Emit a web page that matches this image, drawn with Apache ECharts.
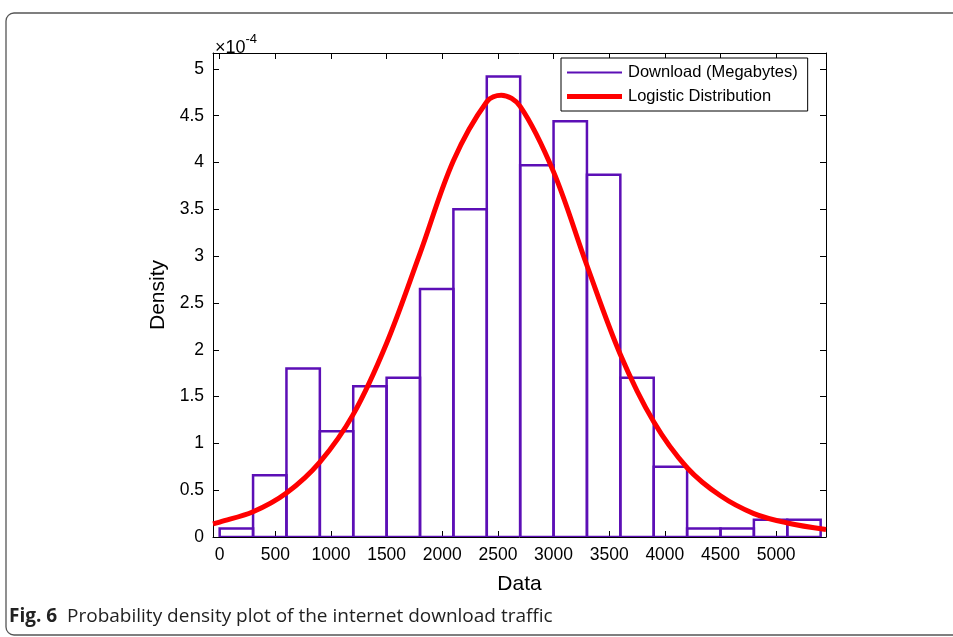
<!DOCTYPE html>
<html>
<head>
<meta charset="utf-8">
<script src="https://cdn.jsdelivr.net/npm/echarts@6/dist/echarts.min.js"></script>
<style>
  html, body { margin: 0; padding: 0; background: #fff; }
  #main { width: 953px; height: 637px; }
</style>
</head>
<body>
<div id="main"></div>
<script>
// histogram bins (data units), density in units of 1e-4
var binStart = [0, 300, 600, 900, 1200, 1500, 1800, 2100, 2400, 2700, 3000, 3300, 3600, 3900, 4200, 4500, 4800, 5100];
var binWidth = 300;
var binDensity = [0.09, 0.66, 1.8, 1.13, 1.61, 1.7, 2.65, 3.5, 4.92, 3.97, 4.44, 3.87, 1.7, 0.75, 0.09, 0.09, 0.185, 0.185];

// fitted logistic curve
var curveX = [-60, 0, 300, 600, 900, 1200, 1500, 1800, 2100, 2400, 2530, 2700, 3000, 3300, 3600, 3900, 4200, 4500, 4800, 5100, 5448];
var curveY = [0.14, 0.16, 0.27, 0.47, 0.8, 1.31, 2.07, 3.03, 4.02, 4.65, 4.72, 4.6, 3.9, 2.9, 1.95, 1.23, 0.74, 0.44, 0.25, 0.15, 0.08];

var xTicks = [0, 500, 1000, 1500, 2000, 2500, 3000, 3500, 4000, 4500, 5000];
var yTicks = [0, 0.5, 1, 1.5, 2, 2.5, 3, 3.5, 4, 4.5, 5];

var purple = '#5c0fb6';
var red = '#ff0000';
var font = 'Liberation Sans';

var chart = echarts.init(document.getElementById('main'));

// build histogram items
var histData = [];
binStart.forEach(function (x0, i) {
  histData.push([x0, x0 + binWidth, binDensity[i]]);
});
var curveData = curveX.map(function (x, i) { return [x, curveY[i]]; });

function plain(v) { return String(v); }

function axisBase(extra) {
  var o = {
    type: 'value',
    axisLine: { show: true, onZero: false, lineStyle: { color: '#000', width: 1 } },
    splitLine: { show: false },
    axisTick: { show: true, inside: true, length: 6, lineStyle: { color: '#000' } },
    axisLabel: { show: true }
  };
  return Object.assign(o, extra);
}

chart.setOption({
  animation: false,
  backgroundColor: '#fff',
  grid: { left: 213, top: 53, right: 127, bottom: 100 },
  graphic: [
    {
      type: 'rect',
      shape: { x: 6, y: 13, width: 980, height: 622, r: 8 },
      style: { fill: 'none', stroke: '#555', lineWidth: 1.3 },
      silent: true
    },
    {
      type: 'text',
      left: 215,
      top: 33,
      style: {
        text: '{a|×10}{b|-4}',
        rich: {
          a: { fontFamily: font, fontSize: 18, fill: '#000', verticalAlign: 'bottom', padding: [6, 0, 0, 0] },
          b: { fontFamily: font, fontSize: 13, fill: '#000', verticalAlign: 'top', padding: [0, 0, 8, 0] }
        }
      }
    },
    {
      type: 'text',
      left: 9,
      top: 607,
      style: {
        text: '{b|Fig. 6}  Probability density plot of the internet download traffic',
        rich: {
          b: { fontWeight: 'bold', fontSize: 19, fontFamily: 'Open Sans', fill: '#222' }
        },
        fontFamily: 'Open Sans',
        fontSize: 19,
        fill: '#222'
      }
    }
  ],
  legend: {
    orient: 'vertical',
    left: 561,
    top: 58,
    padding: [6, 10, 6, 6],
    itemGap: 7,
    itemWidth: 55,
    itemHeight: 16,
    borderColor: '#000',
    borderWidth: 1,
    backgroundColor: '#fff',
    textStyle: { fontFamily: font, fontSize: 16.5, color: '#000', padding: [0, 0, 0, 1] },
    data: [
      { name: 'Download (Megabytes)', icon: 'path://M0,0H55V1.8H0Z', itemStyle: { color: purple, borderWidth: 0 } },
      { name: 'Logistic Distribution', icon: 'path://M0,0H55V4.8H0Z', itemStyle: { color: red, borderWidth: 0 } }
    ]
  },
  xAxis: [
    axisBase({
      min: -60,
      max: 5448,
      position: 'bottom',
      name: 'Data',
      nameLocation: 'middle',
      nameGap: 37,
      nameTextStyle: { fontFamily: font, fontSize: 21, color: '#000' },
      axisTick: { show: true, inside: true, length: 6, lineStyle: { color: '#000' }, customValues: xTicks },
      axisLabel: { show: true, customValues: xTicks, formatter: plain, margin: 9, fontFamily: font, fontSize: 17.5, color: '#000' }
    }),
    axisBase({
      min: -60,
      max: 5448,
      position: 'top',
      axisTick: { show: true, inside: true, length: 6, lineStyle: { color: '#000' }, customValues: xTicks },
      axisLabel: { show: false }
    })
  ],
  yAxis: [
    axisBase({
      min: 0,
      max: 5.17,
      position: 'left',
      name: 'Density',
      nameLocation: 'middle',
      nameGap: 44,
      nameTextStyle: { fontFamily: font, fontSize: 21, color: '#000' },
      axisTick: { show: true, inside: true, length: 6, lineStyle: { color: '#000' }, customValues: yTicks },
      axisLabel: { show: true, customValues: yTicks, formatter: plain, margin: 9, fontFamily: font, fontSize: 17.5, color: '#000' }
    }),
    axisBase({
      min: 0,
      max: 5.17,
      position: 'right',
      axisTick: { show: true, inside: true, length: 6, lineStyle: { color: '#000' }, customValues: yTicks },
      axisLabel: { show: false }
    })
  ],
  series: [
    {
      name: 'Download (Megabytes)',
      type: 'custom',
      xAxisIndex: 0,
      yAxisIndex: 0,
      clip: true,
      z: 2,
      encode: { x: [0, 1], y: 2 },
      data: histData,
      renderItem: function (params, api) {
        var p0 = api.coord([api.value(0), api.value(2)]);
        var p1 = api.coord([api.value(1), 0]);
        return {
          type: 'rect',
          shape: { x: p0[0], y: p0[1], width: p1[0] - p0[0], height: p1[1] - p0[1] },
          style: { fill: 'none', stroke: purple, lineWidth: 2.5 }
        };
      }
    },
    {
      name: 'Logistic Distribution',
      type: 'line',
      xAxisIndex: 0,
      yAxisIndex: 0,
      z: 3,
      smooth: 0.35,
      showSymbol: false,
      symbol: 'none',
      clip: true,
      lineStyle: { color: red, width: 5 },
      itemStyle: { color: red },
      data: curveData
    }
  ]
});
</script>
</body>
</html>
